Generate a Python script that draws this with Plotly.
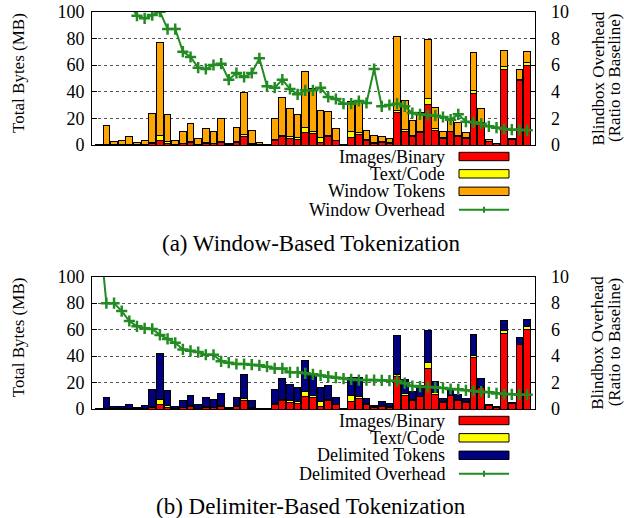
import plotly.graph_objects as go

W, H = 624, 518

idx = list(range(57))

images = [0, 0.2, 0.1, 0.1, 0.2, 0.1, 0.3, 1.0, 3.5, 1.5, 0.2, 1.0, 1.8, 0.3, 1.5, 1.0, 2.0, 0.2, 2.0, 6.25,
          0.5, 0.2, 0.1, 3.5, 6.25, 5.0, 4.5, 9.5, 8.75, 1.75, 6.25, 3.25, 0.1, 5.75, 8.25, 3.25, 1.0, 2.0, 1.25, 24.5,
          10.5, 6.75, 9.5, 30.5, 11.0, 5.0, 10.0, 6.25, 4.75, 38.75, 16.5, 2.5, 1.0, 56.75, 4.5, 48.75, 59.75]
text_code = [0, 0.2, 0.1, 0.1, 0.2, 0.1, 0.2, 0.8, 4.0, 0.8, 0.2, 0.5, 0.6, 0.3, 0.4, 0.4, 0.8, 0.2, 0.3, 1.5,
             1.0, 0.1, 0.1, 0.5, 1.25, 1.5, 1.5, 3.75, 1.5, 4.0, 0.75, 0.5, 0.1, 4.25, 1.0, 0.75, 0.75, 0.5, 0.5, 1.75,
             1.25, 0.75, 0.3, 4.5, 1.5, 0.3, 0.3, 1.0, 0.75, 2.0, 0.3, 0.2, 0.1, 2.25, 0.1, 0.3, 2.25]
window_tokens = [0.5, 14.3, 2.55, 3.3, 6.1, 1.8, 3.25, 21.95, 69.5, 20.7, 3.1, 8.5, 13.6, 4.15, 10.85, 8.85, 17.45, 0.85, 11.2, 31.75,
                 9.5, 1.7, 0.55, 16.0, 28.5, 21.25, 17.0, 41.75, 32.5, 20.5, 18.5, 8.5, 0.2, 23.0, 23.75, 7.25, 5.25, 3.75, 3.5, 55.5,
                 21.75, 11.0, 14.45, 44.25, 15.5, 4.7, 9.2, 9.75, 4.25, 28.5, 10.45, 1.3, 0.4, 12.0, 0.4, 7.95, 8.25]
delim_tokens = [0.5, 8.3, 1.8, 1.8, 3.35, 1.05, 2.0, 12.95, 34.25, 11.7, 1.6, 5.0, 8.1, 2.9, 7.1, 5.85, 8.95, 0.6, 6.45, 18.5,
                5.0, 0.2, 0.1, 10.4, 15.5, 12.1, 10.6, 23.25, 14.95, 10.15, 10.6, 4.85, 0.1, 13.9, 14.65, 4.0, 1.25, 2.8, 2.25, 28.95,
                10.45, 5.6, 7.8, 24.0, 8.4, 2.7, 4.6, 4.05, 2.5, 15.65, 5.9, 0.8, 0.7, 8.0, 0.4, 5.15, 5.8]
window_overhead = [22, 16, 13, 11.5, 10.6, 9.7, 9.5, 9.75, 10.0, 8.7, 8.7, 7.0, 6.6, 5.8, 5.7, 6.0, 6.1, 4.9, 5.4, 5.1,
                   5.4, 6.5, 4.4, 4.3, 4.9, 4.2, 3.8, 4.1, 4.1, 4.3, 3.6, 3.45, 3.1, 3.1, 3.3, 3.15, 5.7, 2.9, 3.0, 3.1,
                   2.9, 2.4, 2.3, 2.25, 2.2, 2.1, 1.9, 2.3, 1.75, 1.7, 1.6, 1.4, 1.3, 1.2, 1.15, 1.15, 1.1]
delim_overhead = [14, 8.0, 8.0, 7.4, 6.65, 6.25, 6.1, 6.05, 5.6, 5.3, 5.0, 4.5, 4.4, 4.3, 4.1, 4.1, 3.6, 3.5, 3.4, 3.4,
                  3.35, 3.3, 3.2, 3.07, 3.07, 2.77, 2.77, 2.7, 2.62, 2.54, 2.44, 2.37, 2.3, 2.24, 2.19, 2.19, 2.19, 2.17, 2.14, 2.12,
                  1.95, 1.74, 1.69, 1.66, 1.64, 1.59, 1.51, 1.49, 1.41, 1.36, 1.31, 1.26, 1.18, 1.13, 1.11, 1.08, 1.08]

left_ticks = [0, 20, 40, 60, 80, 100]
right_ticks = [0, 2, 4, 6, 8, 10]

RED, YEL, ORG, NAVY, GRN = "#FF0000", "#FFFF00", "#FFA500", "#000080", "#228B22"
FONT = "Liberation Serif"


def px(x):
    return x / W


def py(y):
    return 1 - y / H


fig = go.Figure()
BW = 0.88


def add_panel(xa, ya, ya2, tokens, tok_color, overhead):
    for vals, col in [(images, RED), (text_code, YEL), (tokens, tok_color)]:
        fig.add_trace(go.Bar(x=idx, y=vals, width=BW, marker=dict(color=col, line=dict(color="black", width=1)),
                             xaxis=xa, yaxis=ya, showlegend=False))
    fig.add_trace(go.Scatter(x=idx, y=overhead, mode="lines+markers", xaxis=xa, yaxis=ya2,
                             line=dict(color=GRN, width=2),
                             marker=dict(symbol="cross-thin", size=8, line=dict(color=GRN, width=2.5)),
                             showlegend=False))


add_panel("x", "y", "y2", window_tokens, ORG, window_overhead)
add_panel("x2", "y3", "y4", delim_tokens, NAVY, delim_overhead)

tickfont = dict(family=FONT, size=18, color="black")
xdom = [px(92), px(535)]
doms = {"top": [py(145), py(11.7)], "bot": [py(409), py(276.7)]}

common_x = dict(domain=xdom, range=[-0.88, 57.03], showticklabels=False, ticks="", showgrid=False,
                zeroline=False, showline=True, linecolor="black", linewidth=1, mirror=True, automargin=False)
left_y = dict(range=[0, 100], tickvals=left_ticks, ticks="inside", ticklen=5, tickcolor="black",
              showgrid=True, gridcolor="#555", griddash="dot", gridwidth=1, zeroline=False,
              showline=True, linecolor="black", linewidth=1, mirror=True, tickfont=tickfont,
              ticklabelstandoff=3, automargin=False)
right_y = dict(range=[0, 10], tickvals=right_ticks, ticks="inside", ticklen=5, tickcolor="black",
               showgrid=False, zeroline=False, side="right", tickfont=tickfont, ticklabelstandoff=15,
               automargin=False)

fig.update_layout(
    xaxis=dict(**common_x, anchor="y"),
    yaxis=dict(**left_y, domain=doms["top"], anchor="x"),
    yaxis2=dict(**right_y, overlaying="y", anchor="x"),
    xaxis2=dict(**common_x, anchor="y3"),
    yaxis3=dict(**left_y, domain=doms["bot"], anchor="x2"),
    yaxis4=dict(**right_y, overlaying="y3", anchor="x2"),
)

shapes = []
annotations = []

panels = [
    (0, ["Images/Binary", "Text/Code", "Window Tokens", "Window Overhead"], ORG,
     "(a) Window-Based Tokenization", 78.4, 243),
    (264, ["Images/Binary", "Text/Code", "Delimited Tokens", "Delimited Overhead"], NAVY,
     "(b) Delimiter-Based Tokenization", 342.8, 506),
]
row_y = [156.5, 173.8, 191.3, 209.8]
for off, labels, tokc, caption, ycen, capy in panels:
    for i, (lab, col) in enumerate(zip(labels, [RED, YEL, tokc, None])):
        yc = row_y[i] + off
        annotations.append(dict(x=px(447), y=py(yc), xref="paper", yref="paper", text=lab, showarrow=False,
                                xanchor="right", yanchor="middle", font=dict(family=FONT, size=18, color="black")))
        if col is not None:
            shapes.append(dict(type="rect", xref="paper", yref="paper", x0=px(459), x1=px(509),
                               y0=py(yc + 4.2), y1=py(yc - 4.2), fillcolor=col,
                               line=dict(color="black", width=1)))
        else:
            shapes.append(dict(type="line", xref="paper", yref="paper", x0=px(459), x1=px(509),
                               y0=py(yc), y1=py(yc), line=dict(color=GRN, width=2)))
            shapes.append(dict(type="line", xref="paper", yref="paper", x0=px(484), x1=px(484),
                               y0=py(yc - 3), y1=py(yc + 3), line=dict(color=GRN, width=2)))
    annotations.append(dict(x=px(18.5), y=py(ycen - 5), xref="paper", yref="paper", text="Total Bytes (MB)",
                            showarrow=False, textangle=-90, xanchor="center", yanchor="middle",
                            font=dict(family=FONT, size=17, color="black")))
    annotations.append(dict(x=px(598), y=py(ycen), xref="paper", yref="paper", text="Blindbox Overhead",
                            showarrow=False, textangle=-90, xanchor="center", yanchor="middle",
                            font=dict(family=FONT, size=17, color="black")))
    annotations.append(dict(x=px(614.5), y=py(ycen), xref="paper", yref="paper", text="(Ratio to Baseline)",
                            showarrow=False, textangle=-90, xanchor="center", yanchor="middle",
                            font=dict(family=FONT, size=17, color="black")))
    annotations.append(dict(x=px(311), y=py(capy), xref="paper", yref="paper", text=caption,
                            showarrow=False, xanchor="center", yanchor="middle",
                            font=dict(family=FONT, size=23, color="black")))

fig.update_layout(
    width=W, height=H, margin=dict(l=0, r=0, t=0, b=0, autoexpand=False),
    paper_bgcolor="white", plot_bgcolor="white",
    barmode="stack", showlegend=False,
    shapes=shapes, annotations=annotations,
    font=dict(family=FONT, color="black"),
)

fig.write_html("out.html", config={"displayModeBar": False, "staticPlot": True},
               post_script="document.body.style.margin='0';document.body.style.overflow='hidden';")
